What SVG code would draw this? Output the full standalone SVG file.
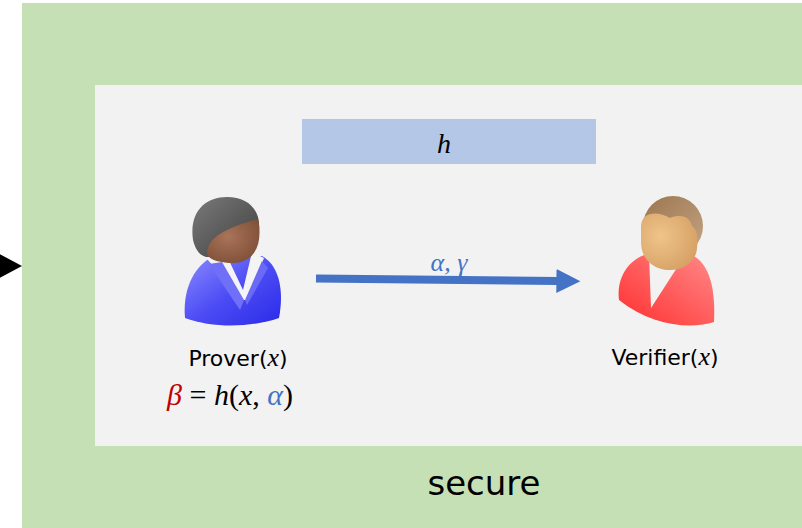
<svg xmlns="http://www.w3.org/2000/svg" width="802" height="528" viewBox="0 0 802 528">
  <style>
    .label { font-family: "DejaVu Sans", "Liberation Sans", sans-serif; font-size: 22px; fill: #000; }
    .math { font-family: "Liberation Serif", "DejaVu Serif", serif; font-style: italic; }
    .upright { font-style: normal; }
  </style>
  <defs>
    <marker id="arrowHead" markerWidth="3.2" markerHeight="3.2" refX="0.2" refY="1.5" orient="auto" markerUnits="strokeWidth">
      <path d="M0,0 L3,1.5 L0,3 Z" fill="#4472C4"/>
    </marker>
    <linearGradient id="blueBody" x1="0" y1="0" x2="1" y2="1">
      <stop offset="0" stop-color="#8C8CFF"/>
      <stop offset="0.5" stop-color="#4D4DF5"/>
      <stop offset="1" stop-color="#2A2AE8"/>
    </linearGradient>
    <linearGradient id="redBody" x1="0" y1="1" x2="1" y2="0">
      <stop offset="0" stop-color="#FF2E2E"/>
      <stop offset="1" stop-color="#FF8A8A"/>
    </linearGradient>
    <radialGradient id="darkFace" cx="0.4" cy="0.4" r="0.7">
      <stop offset="0" stop-color="#A8745A"/>
      <stop offset="1" stop-color="#7E4E36"/>
    </radialGradient>
    <linearGradient id="grayHair" x1="0" y1="0" x2="1" y2="1">
      <stop offset="0" stop-color="#7A7A7A"/>
      <stop offset="1" stop-color="#3E3E3E"/>
    </linearGradient>
    <radialGradient id="tanFace" cx="0.35" cy="0.4" r="0.75">
      <stop offset="0" stop-color="#EFC48A"/>
      <stop offset="1" stop-color="#D49E62"/>
    </radialGradient>
    <linearGradient id="brownHair" x1="0" y1="0" x2="1" y2="1">
      <stop offset="0" stop-color="#9C7650"/>
      <stop offset="1" stop-color="#C4A483"/>
    </linearGradient>
  </defs>

  <!-- outer secure zone -->
  <rect x="22" y="3" width="780" height="525" fill="#C5E0B4"/>
  <!-- inner protocol area -->
  <rect x="95" y="85" width="707" height="361" fill="#F2F2F2"/>

  <!-- incoming arrow at the left edge -->
  <polygon points="-12,248 22,266 -12,284" fill="#000"/>

  <!-- hash function box -->
  <g id="hash">
    <rect x="302" y="119" width="294" height="45" fill="#B4C7E7"/>
    <text x="444" y="153" text-anchor="middle" class="math" font-size="28">h</text>
  </g>

  <!-- prover -->
  <g id="prover">
    <path d="M185,318 C182,285 198,262 215,256 L262,256 C280,266 284,292 279,318 C250,328 212,328 185,318 Z" fill="url(#blueBody)"/>
    <path d="M207,259 L225,252 L243,290 L252,252 L264,258 L247,300 L243,300 Z" fill="#F4F4F4"/>
    <path d="M209,264 L222,262 L244,300 L240,310 Z" fill="#6F6FF7"/>
    <path d="M262,261 L268,268 L247,305 L245,300 Z" fill="#6A6AF6"/>
    <path d="M193,240 C189,212 205,197 227,197 C248,197 261,210 259,230 L230,238 C220,240 212,246 210,257 C202,258 196,252 193,240 Z" fill="url(#grayHair)"/>
    <path d="M207,252 C209,234 234,226 258,219 C263,242 256,262 234,263 C220,263 207,260 207,252 Z" fill="url(#darkFace)"/>
    <text x="238" y="366" text-anchor="middle" class="label">Prover(<tspan class="math" font-size="26">x</tspan>)</text>
    <text x="230" y="405" text-anchor="middle" class="math" font-size="30"><tspan fill="#C00000">β</tspan><tspan class="upright"> = </tspan>h<tspan class="upright">(</tspan>x<tspan class="upright">, </tspan><tspan fill="#4472C4">α</tspan><tspan class="upright">)</tspan></text>
  </g>

  <!-- verifier -->
  <g id="verifier">
    <path d="M619,300 C616,276 630,258 650,253 L688,253 C706,260 716,280 714,322 C690,330 650,325 619,300 Z" fill="url(#redBody)"/>
    <path d="M649,254 L682,260 L651,308 Z" fill="#F2F2F2"/>
    <path d="M652,240 L680,240 L678,266 C668,272 660,270 654,264 Z" fill="#D9A366"/>
    <circle cx="673" cy="226" r="30" fill="url(#brownHair)"/>
    <path d="M641,226 C642,210 660,212 670,218 C680,214 690,216 692,226 C698,230 698,240 697,248 C696,262 684,270 670,270 C652,270 641,258 641,242 Z" fill="url(#tanFace)"/>
    <text x="665" y="365" text-anchor="middle" class="label">Verifier(<tspan class="math" font-size="26">x</tspan>)</text>
  </g>

  <!-- messages -->
  <g id="connectors">
    <line x1="316" y1="278.5" x2="558" y2="281" stroke="#4472C4" stroke-width="8" marker-end="url(#arrowHead)"/>
    <text x="449" y="271" text-anchor="middle" class="math" font-size="26" fill="#4472C4">α, γ</text>
  </g>

  <!-- zone label -->
  <text x="484" y="495" text-anchor="middle" font-family="DejaVu Sans, Liberation Sans, sans-serif" font-size="34" fill="#000">secure</text>
</svg>
